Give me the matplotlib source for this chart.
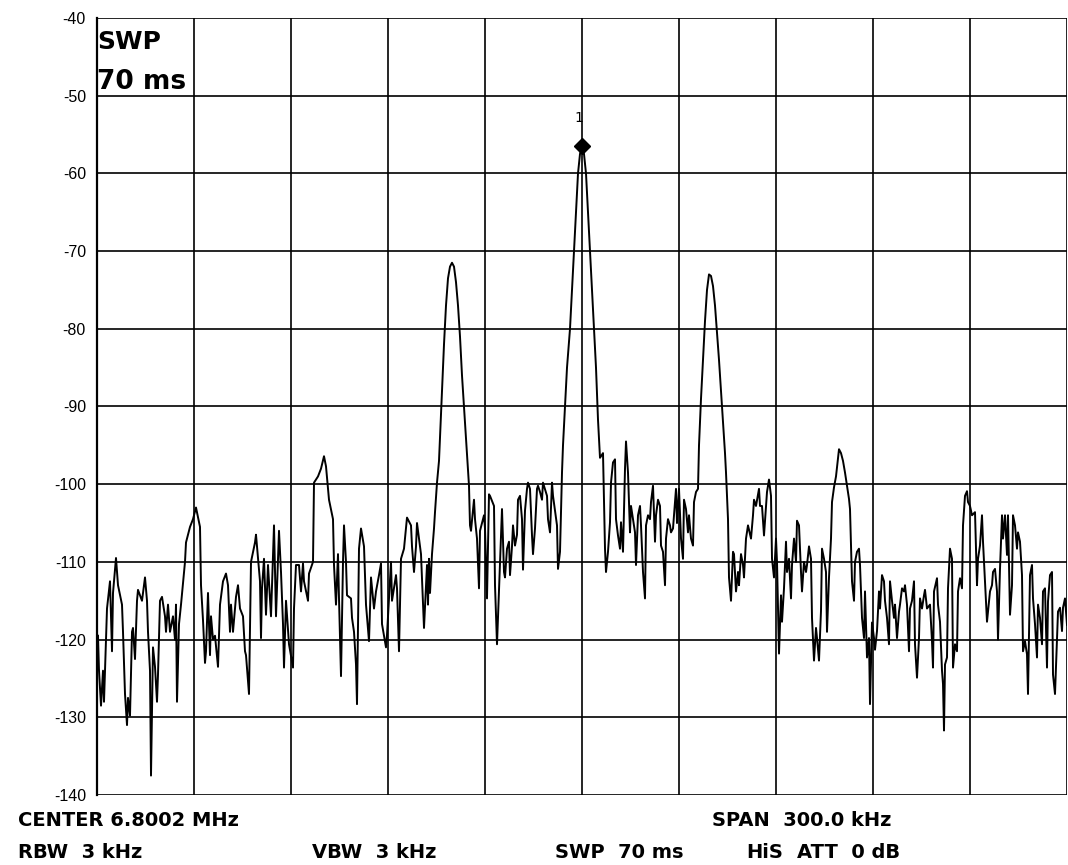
import matplotlib
matplotlib.use("Agg")
import matplotlib.pyplot as plt
import numpy as np

# spectrum analyser trace: trace point number (0..970 over the span) and level in dBm
center_mhz = 6.8002
span_khz = 300.0
n_points = 970

bins = [
    1, 2, 4, 6, 7, 10, 13, 15, 16, 19, 21, 25, 26, 28, 30, 31, 33, 35, 36, 38,
    40, 41, 45, 48, 50, 51, 53, 54, 56, 58, 60, 61, 63, 65, 68, 69, 71, 73, 76, 78,
    79, 80, 82, 84, 88, 89, 93, 96, 99, 103, 104, 106, 108, 109, 111, 113, 114, 116, 118, 121,
    123, 126, 129, 131, 133, 134, 136, 139, 141, 143, 146, 148, 149, 152, 154, 158, 159, 163, 164, 165,
    167, 169, 171, 174, 177, 179, 182, 184, 186, 187, 189, 192, 196, 197, 199, 202, 204, 206, 207, 211,
    212, 216, 217, 221, 224, 227, 229, 232, 236, 237, 239, 241, 242, 244, 246, 247, 249, 250, 254, 255,
    257, 259, 260, 262, 264, 267, 269, 272, 274, 277, 279, 282, 284, 285, 289, 290, 294, 295, 299, 300,
    302, 304, 307, 310, 314, 315, 317, 319, 320, 324, 327, 329, 330, 331, 332, 333, 335, 337, 338, 340,
    342, 343, 345, 347, 349, 351, 353, 355, 357, 359, 361, 363, 365, 367, 369, 370, 372, 373, 374, 377,
    378, 380, 382, 383, 387, 388, 390, 392, 393, 397, 398, 400, 402, 405, 407, 408, 410, 412, 413, 415,
    416, 418, 420, 421, 423, 425, 426, 428, 430, 431, 433, 435, 436, 438, 440, 441, 443, 445, 446, 450,
    451, 453, 455, 456, 460, 461, 463, 465, 466, 468, 470, 473, 475, 477, 479, 481, 483, 485, 487, 489,
    491, 493, 495, 497, 499, 501, 503, 506, 508, 509, 511, 513, 514, 516, 518, 519, 521, 523, 524, 526,
    528, 529, 531, 533, 534, 536, 538, 539, 541, 543, 544, 546, 548, 549, 551, 553, 554, 556, 558, 559,
    561, 563, 564, 566, 568, 569, 571, 573, 574, 576, 579, 580, 582, 584, 586, 587, 589, 591, 592, 594,
    596, 597, 599, 601, 602, 604, 606, 608, 610, 612, 614, 616, 618, 620, 622, 624, 626, 628, 629, 631,
    632, 634, 636, 637, 639, 641, 642, 644, 646, 647, 649, 651, 654, 656, 657, 659, 662, 663, 665, 667,
    670, 672, 674, 675, 677, 679, 680, 682, 684, 685, 687, 689, 690, 692, 694, 695, 697, 699, 700, 702,
    704, 705, 707, 709, 710, 712, 714, 715, 717, 719, 720, 722, 724, 725, 727, 729, 730, 732, 734, 735,
    737, 739, 742, 744, 746, 748, 750, 752, 753, 755, 757, 758, 760, 762, 763, 765, 767, 768, 770, 772,
    773, 775, 777, 778, 780, 782, 783, 785, 787, 788, 790, 792, 793, 795, 797, 798, 800, 802, 803, 805,
    807, 808, 810, 812, 813, 815, 817, 818, 820, 822, 823, 825, 827, 828, 830, 833, 835, 836, 837, 840,
    841, 843, 845, 846, 847, 848, 850, 851, 853, 855, 856, 858, 860, 861, 863, 865, 866, 868, 870, 871,
    873, 875, 878, 880, 881, 883, 885, 886, 888, 890, 891, 893, 895, 896, 898, 900, 901, 903, 905, 906,
    908, 910, 911, 913, 915, 916, 918, 920, 921, 923, 925, 926, 928, 930, 931, 933, 935, 936, 938, 940,
    941, 943, 945, 946, 948, 950, 951, 953, 955, 956, 958, 960, 961, 963, 965, 966, 968, 970,
]

levels = [
    -119.5, -124, -128.5, -124, -128, -116, -112.5, -121.5, -114, -109.5, -113, -115.5, -119, -127, -131, -127.5, -129.8, -119, -118.5, -122.5,
    -115, -113.6, -115, -112, -115, -119, -124, -137.5, -121, -123.5, -128, -124.5, -115, -114.5, -117, -119, -115.5, -119, -117, -120,
    -115.5, -128, -118, -115.5, -110, -107.5, -105.5, -104.5, -103, -105.5, -113, -117.5, -123, -121.5, -114, -122, -117, -120, -119.5, -123.5,
    -115.5, -112.5, -111.5, -113, -119, -115.5, -119, -114.5, -113, -116, -117, -121.5, -122, -127, -110, -107.5, -106.5, -112.5, -119.8, -113.4,
    -109.6, -116.8, -110.4, -117, -105.3, -117, -106, -111.3, -118, -123.6, -115, -120.6, -123.6, -116, -110.4, -110.4, -113.8, -110.2, -112.5, -115,
    -111.5, -110, -99.8, -99, -98, -96.4, -97.7, -102, -104.5, -110.4, -115.5, -109, -114.7, -124.7, -110, -105.3, -110, -114.3, -114.7, -117.2,
    -119, -123.2, -128.3, -108.3, -105.7, -108, -115.5, -120.2, -112, -116, -113.8, -111.7, -110.2, -118, -121, -119.4, -110, -115, -111.7, -113.4,
    -121.5, -109.6, -108.3, -104.3, -105.3, -108, -111.3, -108, -105, -109, -118.5, -113, -110.4, -115.5, -109.6, -114, -109, -105.7, -103.6, -99.8,
    -97, -94, -88, -82, -77, -73.5, -72, -71.5, -72, -74, -77, -81, -86, -90, -94, -96, -100.2, -105.3, -106, -102,
    -104.5, -107, -113.4, -106, -104, -105.7, -114.7, -101.3, -101.5, -102.8, -113, -120.6, -113.5, -103.2, -111.3, -112, -108.3, -107.4, -111.7, -108,
    -105.3, -107.9, -106.5, -102, -101.5, -104.5, -111, -103.4, -100.6, -99.8, -100.6, -106.6, -109, -105.7, -100.6, -100.2, -101, -102, -99.8, -101.5,
    -104.5, -106.2, -99.8, -101.5, -105.3, -110.9, -108.7, -98.5, -95, -90, -85, -80, -75, -70, -65, -60, -57.5, -56.5, -57.5, -60,
    -65, -70, -75, -80, -85, -91.7, -96.6, -96, -108.3, -111.3, -108.7, -104.9, -99.8, -97.2, -96.8, -104.5, -106.6, -108.3, -104.9, -108.7,
    -98, -94.5, -98.5, -106.2, -102.8, -104.5, -106.2, -110.4, -104, -102.8, -105.3, -111.3, -114.7, -105.3, -104, -104.5, -102.3, -100.2, -107.4, -104,
    -102, -102.8, -107.9, -108.7, -113, -107, -104.5, -105.3, -106.2, -105.7, -100.6, -105, -100.6, -107, -109.6, -102, -103.2, -106.2, -104, -107,
    -107.9, -102.3, -101, -100.6, -95, -89, -84, -79, -75, -73, -73.2, -74.5, -77, -80.5, -84, -88, -92, -96, -98.5, -104.5,
    -112, -115, -108.7, -109, -113.8, -111.3, -113, -109, -110.4, -112, -107, -105.3, -107, -104, -102, -102.8, -100.6, -102.8, -102.8, -106.6,
    -101, -99.4, -101.5, -109.6, -112, -107, -110, -121.8, -114.3, -117.7, -113.4, -107.4, -111.3, -109.6, -114.7, -110.4, -107, -110, -104.7, -105.3,
    -111.3, -113.8, -110, -111.3, -110.4, -108, -109.6, -117.2, -122.7, -118.5, -119.8, -122.7, -116.3, -108.3, -109.6, -111.3, -119, -112, -107, -102.3,
    -100.4, -99, -95.5, -96, -97, -98.5, -100.2, -101.9, -103.2, -112.5, -115, -110, -108.7, -108.3, -110.4, -117.2, -119.8, -113.8, -122.3, -119.8,
    -128.3, -117.8, -119.8, -121.3, -118.9, -113.8, -116, -111.7, -112.5, -115, -117.2, -120.6, -112.5, -115, -117.2, -115.5, -119.8, -116.4, -115.5, -113.4,
    -113.8, -113, -115.5, -121.5, -116, -115, -112.5, -120.6, -124.9, -119.8, -114.7, -116, -114.3, -113.6, -116, -115.5, -120.2, -123.6, -113.8, -112.1,
    -115.5, -117.7, -124, -125.7, -131.7, -123.2, -122.3, -113.4, -108.3, -109.6, -123.6, -120.6, -121.5, -113.8, -112.1, -113.4, -105.3, -101.5, -100.9, -102.3,
    -102.8, -104, -103.6, -113, -109.6, -107.9, -104, -107.4, -112.5, -117.7, -116.4, -113.8, -113, -111.3, -110.9, -113.8, -120, -110.9, -104, -107,
    -104, -109.1, -104, -116.8, -113, -104, -105.3, -108.3, -106.2, -107.4, -111.7, -121.5, -120.2, -121.9, -127, -111.7, -110.4, -114.7, -118, -122.3,
    -115.5, -117.2, -120.6, -113.8, -113.4, -123.6, -115.1, -111.7, -111.3, -124.5, -127, -119.8, -116.4, -115.9, -118.9, -115.9, -114.7, -118.1,
]

marker_bin = 485
marker_level = -56.5

y_ticks = [-40, -50, -60, -70, -80, -90, -100, -110, -120, -130, -140]

footer_top = ["CENTER 6.8002 MHz", "SPAN  300.0 kHz"]
footer_bottom = ["RBW  3 kHz", "VBW  3 kHz", "SWP  70 ms", "HiS", "ATT  0 dB"]

# trace point -> frequency offset from center, kHz
freq = (np.array(bins) - n_points / 2) * span_khz / n_points
marker_freq = (marker_bin - n_points / 2) * span_khz / n_points

fig = plt.figure(figsize=(10.68, 8.65), dpi=100)
ax = fig.add_axes([97 / 1068, 70 / 865, 970 / 1068, 777 / 865])

ax.plot(freq, levels, color="black", linewidth=1.4)
ax.plot([marker_freq], [marker_level], marker="D", color="black", markersize=8, linestyle="none")
ax.text(marker_freq - 1.0, marker_level + 3.6, "1", ha="center", va="center", fontsize=10,
        family="DejaVu Sans")

ax.set_xlim(-span_khz / 2, span_khz / 2)
ax.set_ylim(-140, -40)
ax.set_xticks(np.linspace(-span_khz / 2, span_khz / 2, 11))
ax.set_yticks(y_ticks)
ax.set_yticklabels([str(t) for t in y_ticks], fontsize=11.5, family="Liberation Sans")
ax.tick_params(axis="x", length=0, labelbottom=False)
ax.tick_params(axis="y", length=0, pad=8)
ax.grid(True, color="black", linewidth=1.2)
ax.set_axisbelow(True)
for side in ["top", "right", "bottom"]:
    ax.spines[side].set_visible(False)
ax.spines["left"].set_linewidth(1.6)

ax.text(0.0, 0.985, "SWP", transform=ax.transAxes, ha="left", va="top",
        fontsize=18, fontweight="bold", family="DejaVu Sans")
ax.text(0.0, 0.935, "70 ms", transform=ax.transAxes, ha="left", va="top",
        fontsize=19, fontweight="bold", family="DejaVu Sans")

# footer, like the analyser's status lines
kw = dict(fontsize=14, fontweight="bold", family="DejaVu Sans", va="center", ha="left")
fig.text(18 / 1068, 1 - 820 / 865, footer_top[0], **kw)
fig.text(712 / 1068, 1 - 820 / 865, footer_top[1], **kw)
for x, s in zip([18, 312, 555, 746, 797], footer_bottom):
    fig.text(x / 1068, 1 - 852 / 865, s, **kw)

fig.savefig("out.png", dpi=100, facecolor="white")
